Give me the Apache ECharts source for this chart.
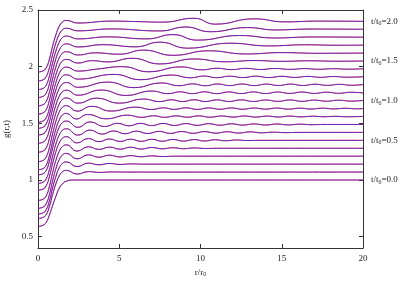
<!DOCTYPE html>
<html><head><meta charset="utf-8">
<script src="https://cdn.jsdelivr.net/npm/echarts@6/dist/echarts.min.js"></script>
<style>html,body{margin:0;padding:0;background:#fff}#c{width:407px;height:285px}</style>
</head><body><div id="c"></div>
<script>
// tick labels
const xTicks = [0, 5, 10, 15, 20];
const yTicks = [0.5, 1, 1.5, 2, 2.5];
const timeLevels = [1.0, 1.35, 1.7, 2.05, 2.4];
const timeLabels = ['0.0', '0.5', '1.0', '1.5', '2.0'];

// g(r,t) curves as plotted (each shifted by 0.07 per step of t/t0=0.1), [r/r0, g]
const g_t00 = [[0,0.59],[0.3,0.6],[0.5,0.625],[0.7,0.69],[0.9,0.775],[1.1,0.855],[1.3,0.925],[1.5,0.965],[1.75,0.99],[2.2,1.0],[20,1.0]];
const g_t01 = [[0,0.66],[0.3,0.669],[0.5,0.694],[0.7,0.766],[0.9,0.873],[1.1,0.966],[1.3,1.034],[1.5,1.072],[1.75,1.085],[2.4,1.052],[3.1,1.074],[3.8,1.067],[4.5,1.071],[5.5,1.07],[20,1.07]];
const g_t02 = [[0,0.70],[0.3,0.709],[0.5,0.737],[0.7,0.815],[0.9,0.93],[1.1,1.031],[1.3,1.105],[1.5,1.146],[1.75,1.16],[2.4,1.118],[3.1,1.149],[3.75,1.134],[4.4,1.146],[5.05,1.137],[5.7,1.142],[6.5,1.14],[20,1.14]];
const g_t03 = [[0,0.75],[0.3,0.76],[0.5,0.789],[0.7,0.871],[0.9,0.993],[1.1,1.099],[1.3,1.177],[1.5,1.22],[1.75,1.235],[2.4,1.186],[3.1,1.222],[3.75,1.201],[4.4,1.219],[5.05,1.203],[5.7,1.215],[6.35,1.205],[7.0,1.213],[7.65,1.207],[8.4,1.21],[20,1.21]];
const g_t04 = [[0,0.82],[0.3,0.83],[0.5,0.859],[0.7,0.943],[0.9,1.065],[1.1,1.173],[1.3,1.251],[1.5,1.295],[1.75,1.31],[2.4,1.255],[3.1,1.293],[3.75,1.27],[4.4,1.29],[5.05,1.272],[5.7,1.289],[6.35,1.273],[7.0,1.287],[7.65,1.275],[8.3,1.285],[8.95,1.276],[9.6,1.283],[10.3,1.278],[11,1.28],[20,1.28]];
const g_t05 = [[0,0.91],[0.3,0.919],[0.5,0.948],[0.7,1.028],[0.9,1.146],[1.1,1.25],[1.3,1.325],[1.5,1.368],[1.75,1.382],[2.4,1.327],[3.1,1.366],[3.75,1.338],[4.4,1.362],[5.05,1.34],[5.7,1.36],[6.35,1.341],[7.0,1.359],[7.65,1.342],[8.3,1.358],[8.95,1.343],[9.6,1.357],[10.25,1.344],[10.9,1.355],[11.55,1.346],[12.2,1.353],[12.9,1.348],[13.6,1.35],[20,1.35]];
const g_t06 = [[0,0.97],[0.3,0.98],[0.5,1.009],[0.7,1.091],[0.9,1.211],[1.1,1.317],[1.3,1.394],[1.5,1.438],[1.75,1.452],[2.45,1.396],[3.2,1.44],[3.95,1.405],[4.65,1.433],[5.35,1.408],[6.05,1.431],[6.75,1.41],[7.45,1.429],[8.15,1.411],[8.85,1.428],[9.55,1.412],[10.25,1.427],[10.95,1.413],[11.65,1.426],[12.35,1.414],[13.05,1.425],[13.75,1.416],[14.45,1.422],[15.2,1.418],[16,1.42],[20,1.42]];
const g_t07 = [[0,1.045],[0.3,1.055],[0.5,1.083],[0.7,1.164],[0.9,1.283],[1.1,1.387],[1.3,1.463],[1.5,1.506],[1.75,1.52],[2.45,1.465],[3.2,1.512],[4.1,1.472],[4.9,1.5],[5.6,1.478],[6.3,1.5],[7.0,1.48],[7.7,1.499],[8.4,1.481],[9.1,1.498],[9.8,1.482],[10.5,1.497],[11.2,1.483],[11.9,1.496],[12.6,1.484],[13.3,1.495],[14.0,1.485],[14.7,1.494],[15.4,1.486],[16.1,1.493],[16.8,1.488],[17.6,1.49],[20,1.49]];
const g_t08 = [[0,1.09],[0.3,1.1],[0.5,1.13],[0.7,1.215],[0.9,1.339],[1.1,1.449],[1.3,1.528],[1.5,1.573],[1.75,1.588],[2.35,1.538],[3.05,1.578],[4.2,1.54],[5.5,1.572],[6.4,1.553],[7.1,1.567],[7.8,1.553],[8.5,1.566],[9.2,1.554],[9.9,1.566],[10.6,1.554],[11.3,1.565],[12.0,1.555],[12.7,1.565],[13.4,1.555],[14.1,1.564],[14.8,1.556],[15.5,1.564],[16.2,1.557],[16.9,1.563],[17.6,1.558],[18.3,1.562],[19.0,1.558],[20,1.561]];
const g_t09 = [[0,1.162],[0.3,1.172],[0.5,1.202],[0.7,1.286],[0.9,1.409],[1.1,1.518],[1.3,1.597],[1.5,1.641],[1.75,1.656],[2.4,1.607],[3.3,1.65],[4.5,1.608],[6.0,1.643],[7.0,1.622],[7.7,1.637],[8.4,1.623],[9.1,1.637],[9.8,1.623],[10.5,1.636],[11.2,1.624],[11.9,1.636],[12.6,1.624],[13.3,1.635],[14.0,1.625],[14.7,1.635],[15.4,1.625],[16.1,1.634],[16.8,1.626],[17.5,1.634],[18.2,1.627],[18.9,1.633],[19.6,1.628],[20,1.63]];
const g_t10 = [[0,1.245],[0.3,1.255],[0.5,1.283],[0.7,1.365],[0.9,1.485],[1.1,1.59],[1.3,1.667],[1.5,1.71],[1.75,1.724],[2.45,1.678],[3.6,1.722],[5.0,1.678],[6.5,1.714],[7.5,1.692],[8.2,1.708],[8.9,1.692],[9.6,1.708],[10.3,1.692],[11.0,1.707],[11.75,1.693],[12.5,1.707],[13.25,1.693],[14.0,1.706],[14.75,1.694],[15.5,1.706],[16.25,1.694],[17.0,1.705],[17.75,1.695],[18.5,1.704],[19.25,1.696],[20,1.702]];
const g_t11 = [[0,1.324],[0.3,1.333],[0.5,1.361],[0.7,1.441],[0.9,1.558],[1.1,1.661],[1.3,1.736],[1.5,1.778],[1.75,1.792],[2.45,1.748],[3.9,1.794],[5.4,1.746],[7.0,1.785],[8.0,1.762],[8.75,1.778],[9.5,1.762],[10.25,1.778],[11.0,1.762],[11.75,1.777],[12.5,1.763],[13.25,1.777],[14.0,1.763],[14.75,1.776],[15.5,1.764],[16.25,1.776],[17.0,1.764],[17.75,1.775],[18.5,1.765],[19.25,1.774],[20,1.768]];
const g_t12 = [[0,1.397],[0.3,1.406],[0.5,1.434],[0.7,1.513],[0.9,1.629],[1.1,1.73],[1.3,1.804],[1.5,1.846],[1.75,1.86],[2.45,1.818],[4.3,1.864],[5.9,1.815],[7.6,1.856],[8.7,1.832],[9.5,1.848],[10.3,1.832],[11.05,1.847],[11.8,1.833],[12.55,1.847],[13.3,1.833],[14.05,1.846],[14.8,1.834],[15.55,1.846],[16.3,1.834],[17.05,1.845],[17.8,1.835],[18.55,1.844],[19.3,1.836],[20,1.842]];
const g_t13 = [[0,1.456],[0.3,1.465],[0.5,1.494],[0.7,1.574],[0.9,1.692],[1.1,1.796],[1.3,1.871],[1.5,1.914],[1.75,1.928],[2.45,1.89],[4.7,1.932],[6.3,1.885],[8.2,1.926],[9.4,1.902],[10.2,1.917],[11.0,1.903],[11.8,1.916],[12.6,1.904],[13.4,1.916],[14.2,1.904],[15.0,1.915],[15.8,1.905],[16.6,1.914],[17.4,1.906],[18.2,1.913],[19.0,1.907],[20,1.911]];
const g_t14 = [[0,1.51],[0.3,1.52],[0.5,1.549],[0.7,1.632],[0.9,1.753],[1.1,1.86],[1.3,1.938],[1.5,1.981],[1.75,1.996],[2.45,1.961],[3.6,1.978],[5.2,2.0],[6.8,1.955],[8.8,1.998],[10.1,1.972],[11.0,1.986],[11.9,1.974],[12.8,1.985],[13.7,1.975],[14.6,1.984],[15.5,1.976],[16.4,1.983],[17.3,1.977],[18.2,1.982],[19.1,1.978],[20,1.981]];
const g_t15 = [[0,1.581],[0.3,1.591],[0.5,1.62],[0.7,1.702],[0.9,1.823],[1.1,1.929],[1.3,2.006],[1.5,2.05],[1.75,2.064],[2.45,2.032],[3.3,2.053],[4.3,2.042],[5.8,2.074],[7.5,2.024],[9.6,2.068],[11.5,2.043],[13.3,2.054],[15.0,2.047],[16.7,2.052],[18.4,2.048],[20,2.05]];
const g_t16 = [[0,1.654],[0.3,1.664],[0.5,1.692],[0.7,1.774],[0.9,1.893],[1.1,1.998],[1.3,2.075],[1.5,2.118],[1.75,2.132],[2.45,2.103],[3.5,2.122],[5.0,2.11],[6.5,2.146],[8.3,2.1],[10.5,2.14],[12.8,2.112],[15.0,2.124],[17.2,2.118],[20,2.12]];
const g_t17 = [[0,1.728],[0.3,1.737],[0.5,1.766],[0.7,1.846],[0.9,1.965],[1.1,2.069],[1.3,2.144],[1.5,2.187],[1.75,2.201],[2.45,2.174],[4.0,2.194],[6.0,2.175],[7.5,2.216],[9.2,2.163],[11.8,2.207],[14.2,2.183],[16.4,2.193],[18.5,2.189],[20,2.19]];
const g_t18 = [[0,1.798],[0.3,1.807],[0.5,1.836],[0.7,1.916],[0.9,2.034],[1.1,2.138],[1.3,2.213],[1.5,2.256],[1.75,2.27],[2.45,2.245],[4.3,2.263],[6.7,2.245],[8.3,2.283],[9.8,2.234],[12.4,2.275],[14.6,2.253],[16.8,2.262],[20,2.26]];
const g_t19 = [[0,1.874],[0.3,1.883],[0.5,1.911],[0.7,1.99],[0.9,2.107],[1.1,2.209],[1.3,2.283],[1.5,2.325],[1.75,2.339],[2.45,2.316],[4.5,2.333],[7.5,2.315],[9.1,2.35],[10.6,2.308],[12.9,2.345],[14.6,2.324],[16.8,2.332],[20,2.33]];
const g_t20 = [[0,1.953],[0.3,1.962],[0.5,1.989],[0.7,2.067],[0.9,2.181],[1.1,2.281],[1.3,2.353],[1.5,2.394],[1.75,2.408],[2.45,2.385],[4.5,2.402],[6.0,2.398],[7.7,2.393],[9.6,2.427],[10.9,2.375],[13.3,2.422],[15.2,2.395],[17.2,2.402],[20,2.4]];

const curves = [g_t00,g_t01,g_t02,g_t03,g_t04,g_t05,g_t06,g_t07,g_t08,g_t09,g_t10,
                g_t11,g_t12,g_t13,g_t14,g_t15,g_t16,g_t17,g_t18,g_t19,g_t20];

const FONT = 'Liberation Serif';
const AX = '#333';
const series = [];
curves.forEach(function (c) {
  series.push({type:'line', data:c, smooth:0.5, showSymbol:false, silent:true,
    lineStyle:{color:'#ff2020', width:1}});
});
curves.forEach(function (c) {
  series.push({type:'line', data:c, smooth:0.5, showSymbol:false, silent:true,
    lineStyle:{color:'#2020ff', width:1, opacity:0.66}});
});

const chart = echarts.init(document.getElementById('c'), null, {renderer:'canvas'});
chart.setOption({
  animation:false,
  backgroundColor:'#fff',
  grid:{left:38, right:44, top:10, bottom:37, containLabel:false, outerBoundsMode:'none'},
  xAxis:[{
    type:'value', min:0, max:20, interval:5, position:'bottom',
    axisLine:{show:true, onZero:false, lineStyle:{color:AX, width:1}},
    axisTick:{show:true, inside:true, length:4, lineStyle:{color:AX}},
    splitLine:{show:false},
    axisLabel:{fontFamily:FONT, fontSize:9, color:'#222', margin:6},
    name:'r/r{s|0}', nameLocation:'middle', nameGap:5,
    nameTextStyle:{fontFamily:FONT, fontSize:9, color:'#222',
      rich:{s:{fontFamily:FONT, fontSize:6, padding:[5,0,0,0]}}}
  },{
    type:'value', min:0, max:20, interval:5, position:'top',
    axisLine:{show:true, onZero:false, lineStyle:{color:AX, width:1}},
    axisTick:{show:true, inside:true, length:4, lineStyle:{color:AX}},
    splitLine:{show:false}, axisLabel:{show:false}
  }],
  yAxis:[{
    type:'value', min:0.4, max:2.5, position:'left',
    axisLine:{show:true, onZero:false, lineStyle:{color:AX, width:1}},
    axisTick:{show:true, inside:true, length:4, customValues:yTicks, lineStyle:{color:AX}},
    splitLine:{show:false},
    axisLabel:{customValues:yTicks, fontFamily:FONT, fontSize:9, color:'#222', margin:5},
    name:'g(r,t)', nameLocation:'middle', nameGap:18, nameRotate:90,
    nameTextStyle:{fontFamily:FONT, fontSize:9, color:'#222'}
  },{
    type:'value', min:0.4, max:2.5, position:'right',
    axisLine:{show:true, onZero:false, lineStyle:{color:AX, width:1}},
    axisTick:{show:true, inside:true, length:4, customValues:yTicks, lineStyle:{color:AX}},
    splitLine:{show:false},
    axisLabel:{customValues:timeLevels, fontFamily:FONT, fontSize:9, color:'#222', margin:8,
      formatter:function (v) {
        let best = 0;
        for (let i = 0; i < timeLevels.length; i++) {
          if (Math.abs(timeLevels[i] - v) < Math.abs(timeLevels[best] - v)) best = i;
        }
        return 't/t{s|0}=' + timeLabels[best];
      },
      rich:{s:{fontFamily:FONT, fontSize:6, padding:[5,0,0,0]}}}
  }],
  series:series
});
</script></body></html>
